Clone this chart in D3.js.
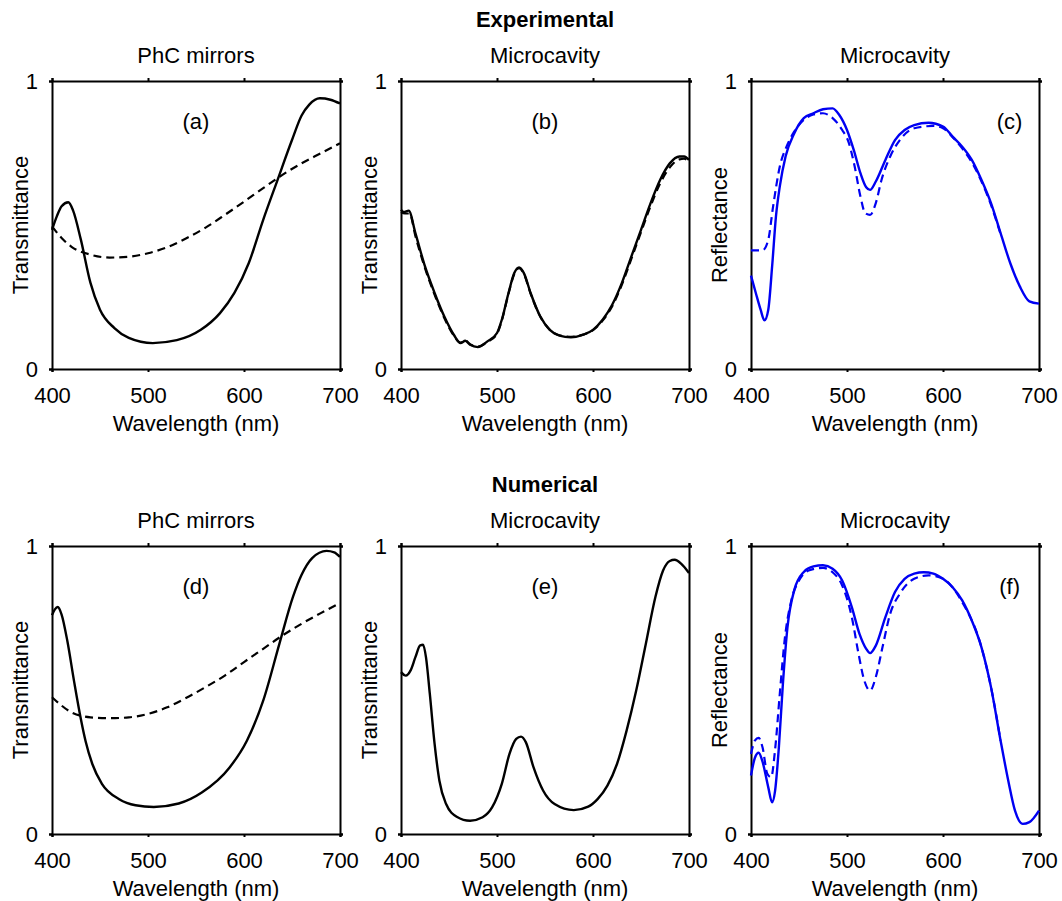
<!DOCTYPE html>
<html>
<head>
<meta charset="utf-8">
<script src="https://cdn.jsdelivr.net/npm/d3@7"></script>
<style>
  body { margin: 0; background: #fff; }
  text { font-family: "Liberation Sans", Arial, sans-serif; fill: #000; }
</style>
</head>
<body>
<div id="chart"></div>
<script>
// ---- data: [wavelength nm, value] ----
var xTicks = [400, 500, 600, 700];
var yTicks = [0, 1];

// (a) experimental PhC mirrors
var aSolid = [[400,0.483],[405,0.53],[410,0.565],[417,0.579],[422,0.55],[430,0.45],[440,0.30],[450,0.206],[465,0.142],[480,0.108],[505,0.09],[530,0.10],[555,0.136],[575,0.194],[590,0.264],[605,0.368],[620,0.518],[635,0.657],[650,0.795],[660,0.88],[668,0.918],[679,0.94],[690,0.935],[700,0.922]];
var aDash = [[400,0.495],[410,0.455],[420,0.425],[440,0.397],[460,0.387],[480,0.39],[500,0.402],[520,0.423],[540,0.454],[560,0.491],[580,0.535],[600,0.581],[620,0.628],[640,0.674],[660,0.714],[680,0.749],[700,0.784]];

// (b) experimental microcavity transmittance
var bSolid = [[400,0.553],[403,0.545],[408,0.55],[415,0.472],[425,0.356],[435,0.264],[445,0.183],[455,0.119],[462,0.09],[467,0.098],[472,0.084],[480,0.076],[490,0.096],[500,0.125],[505,0.171],[512,0.264],[518,0.333],[523,0.353],[528,0.333],[535,0.264],[545,0.183],[555,0.136],[565,0.116],[577,0.11],[590,0.119],[600,0.136],[610,0.171],[620,0.223],[630,0.298],[640,0.391],[650,0.483],[660,0.576],[670,0.657],[680,0.714],[690,0.738],[695,0.738],[700,0.726]];
var bDash = [[400,0.545],[404,0.54],[409,0.54],[415,0.462],[425,0.35],[435,0.258],[445,0.178],[455,0.116],[462,0.092],[467,0.1],[472,0.086],[480,0.078],[490,0.094],[500,0.122],[505,0.168],[512,0.262],[518,0.33],[523,0.35],[528,0.33],[535,0.262],[545,0.182],[555,0.136],[565,0.117],[577,0.112],[590,0.12],[600,0.135],[610,0.168],[620,0.218],[630,0.292],[640,0.383],[650,0.475],[660,0.566],[670,0.645],[680,0.7],[690,0.728],[695,0.73],[700,0.714]];

// (c) experimental microcavity reflectance
var cSolid = [[400,0.324],[405,0.264],[410,0.206],[414,0.169],[418,0.206],[422,0.356],[426,0.53],[430,0.634],[436,0.738],[445,0.818],[455,0.871],[465,0.888],[475,0.902],[485,0.905],[492,0.882],[500,0.83],[507,0.761],[514,0.68],[520,0.631],[524,0.622],[530,0.651],[540,0.726],[550,0.795],[560,0.83],[570,0.847],[585,0.855],[600,0.842],[610,0.807],[620,0.772],[630,0.726],[640,0.657],[650,0.576],[660,0.472],[670,0.368],[680,0.287],[690,0.235],[700,0.227]];
var cDash = [[400,0.412],[412,0.412],[418,0.449],[423,0.564],[430,0.703],[437,0.772],[445,0.824],[455,0.865],[465,0.884],[475,0.888],[485,0.871],[495,0.83],[502,0.784],[508,0.703],[514,0.599],[519,0.541],[524,0.535],[530,0.576],[536,0.657],[545,0.738],[555,0.795],[570,0.836],[590,0.844],[600,0.836],[610,0.805],[620,0.766],[630,0.718],[640,0.652],[650,0.57],[660,0.468]];

// (d) numerical PhC mirrors
var dSolid = [[400,0.76],[403,0.78],[406,0.788],[410,0.762],[416,0.67],[423,0.53],[430,0.4],[435,0.322],[442,0.243],[452,0.174],[470,0.121],[487,0.1],[506,0.094],[532,0.106],[556,0.144],[585,0.231],[603,0.324],[620,0.463],[637,0.662],[651,0.823],[660,0.9],[671,0.958],[686,0.983],[694,0.978],[700,0.962]];
var dDash = [[400,0.475],[420,0.423],[440,0.405],[460,0.402],[480,0.405],[500,0.417],[520,0.44],[540,0.473],[560,0.51],[580,0.55],[600,0.597],[620,0.643],[640,0.689],[660,0.73],[680,0.767],[700,0.802]];

// (e) numerical microcavity transmittance
var eSolid = [[400,0.562],[405,0.55],[410,0.568],[415,0.614],[420,0.655],[423,0.657],[426,0.614],[430,0.487],[435,0.313],[440,0.185],[447,0.104],[458,0.06],[472,0.046],[485,0.058],[495,0.093],[505,0.174],[513,0.278],[520,0.33],[525,0.338],[530,0.319],[538,0.232],[548,0.151],[560,0.104],[580,0.083],[595,0.095],[605,0.122],[615,0.168],[625,0.243],[635,0.359],[645,0.498],[655,0.66],[665,0.823],[673,0.915],[680,0.948],[685,0.952],[692,0.938],[700,0.906]];

// (f) numerical microcavity reflectance
var fSolid = [[400,0.203],[404,0.264],[408,0.282],[412,0.251],[418,0.162],[422,0.11],[425,0.148],[429,0.3],[433,0.51],[438,0.718],[445,0.846],[455,0.91],[465,0.929],[475,0.933],[485,0.921],[495,0.88],[505,0.788],[513,0.695],[520,0.643],[524,0.628],[530,0.654],[540,0.753],[550,0.84],[560,0.886],[570,0.904],[580,0.909],[590,0.904],[600,0.886],[610,0.857],[620,0.811],[630,0.741],[640,0.649],[650,0.51],[660,0.324],[668,0.185],[675,0.081],[683,0.035],[690,0.041],[700,0.081]];
var fDash = [[400,0.278],[404,0.324],[408,0.334],[412,0.301],[417,0.209],[421,0.197],[425,0.29],[430,0.487],[435,0.672],[442,0.811],[450,0.88],[460,0.915],[475,0.924],[485,0.909],[495,0.863],[505,0.753],[512,0.626],[518,0.533],[524,0.498],[530,0.545],[537,0.649],[545,0.765],[555,0.834],[570,0.886],[585,0.898],[600,0.886],[620,0.805],[640,0.649],[650,0.51],[660,0.324]];

var width = 1062,
    height = 901,
    pw = 288,
    ph = 288;
var black = "#000",
    blue = "#0000f2";

var svg = d3.select("#chart").append("svg")
    .attr("width", width)
    .attr("height", height);

// row headings
svg.append("text").attr("x", 545).attr("y", 27).attr("text-anchor", "middle")
  .style("font-size", "22px").style("font-weight", "bold").text("Experimental");
svg.append("text").attr("x", 545).attr("y", 492).attr("text-anchor", "middle")
  .style("font-size", "22px").style("font-weight", "bold").text("Numerical");

var panels = [
  { left: 52,  top: 81,  title: "PhC mirrors", tag: "(a)", tagX: 0.5,  ylab: "Transmittance", color: black, solid: aSolid, dash: aDash },
  { left: 401, top: 81,  title: "Microcavity", tag: "(b)", tagX: 0.5,  ylab: "Transmittance", color: black, solid: bSolid, dash: bDash },
  { left: 751, top: 81,  title: "Microcavity", tag: "(c)", tagX: 0.898, ylab: "Reflectance",  color: blue,  solid: cSolid, dash: cDash },
  { left: 52,  top: 546, title: "PhC mirrors", tag: "(d)", tagX: 0.5,  ylab: "Transmittance", color: black, solid: dSolid, dash: dDash },
  { left: 401, top: 546, title: "Microcavity", tag: "(e)", tagX: 0.5,  ylab: "Transmittance", color: black, solid: eSolid, dash: null },
  { left: 751, top: 546, title: "Microcavity", tag: "(f)", tagX: 0.898, ylab: "Reflectance",  color: blue,  solid: fSolid, dash: fDash }
];

panels.forEach(drawPanel);

function drawPanel(p) {
  var x = d3.scaleLinear().domain([400, 700]).range([0, pw]);
  var y = d3.scaleLinear().domain([0, 1]).range([ph, 0]);

  var g = svg.append("g")
      .attr("transform", "translate(" + p.left + "," + p.top + ")");

  // axes on all four sides, short outward ticks
  var axB = g.append("g").attr("transform", "translate(0," + ph + ")")
      .call(d3.axisBottom(x).tickValues(xTicks).tickSize(3).tickPadding(14));
  var axT = g.append("g")
      .call(d3.axisTop(x).tickValues(xTicks).tickSize(3).tickFormat(""));
  var axL = g.append("g")
      .call(d3.axisLeft(y).tickValues(yTicks).tickSize(3).tickPadding(11).tickFormat(d3.format("d")));
  var axR = g.append("g").attr("transform", "translate(" + pw + ",0)")
      .call(d3.axisRight(y).tickValues(yTicks).tickSize(3).tickFormat(""));

  [axB, axT, axL, axR].forEach(function(a) {
    a.select(".domain").attr("stroke", "#000").attr("stroke-width", 2);
    a.selectAll(".tick line").attr("stroke", "#000").attr("stroke-width", 2);
    a.selectAll("text").style("font-size", "22px")
      .style("font-family", "'Liberation Sans', Arial, sans-serif").attr("fill", "#000");
  });
  axB.selectAll("text").attr("dy", "0.75em");
  axL.selectAll("text").attr("dy", "0.36em");

  var line = d3.line()
      .x(function(d) { return x(d[0]); })
      .y(function(d) { return y(d[1]); })
      .curve(d3.curveMonotoneX);

  if (p.dash) {
    g.append("path").datum(p.dash)
      .attr("d", line)
      .attr("fill", "none")
      .attr("stroke", p.color)
      .attr("stroke-width", 2.2)
      .attr("stroke-dasharray", "8,5");
  }
  g.append("path").datum(p.solid)
    .attr("d", line)
    .attr("fill", "none")
    .attr("stroke", p.color)
    .attr("stroke-width", 2.4);

  // labels
  g.append("text").attr("x", pw / 2).attr("y", -18).attr("text-anchor", "middle")
    .style("font-size", "22px").text(p.title);
  g.append("text").attr("x", pw * p.tagX).attr("y", 48).attr("text-anchor", "middle")
    .style("font-size", "22px").text(p.tag);
  g.append("text").attr("x", pw / 2).attr("y", ph + 62).attr("text-anchor", "middle")
    .style("font-size", "22px").text("Wavelength (nm)");
  g.append("text")
    .attr("transform", "translate(-24," + (ph / 2) + ") rotate(-90)")
    .attr("text-anchor", "middle")
    .style("font-size", "22px").text(p.ylab);
}
</script>
</body>
</html>
